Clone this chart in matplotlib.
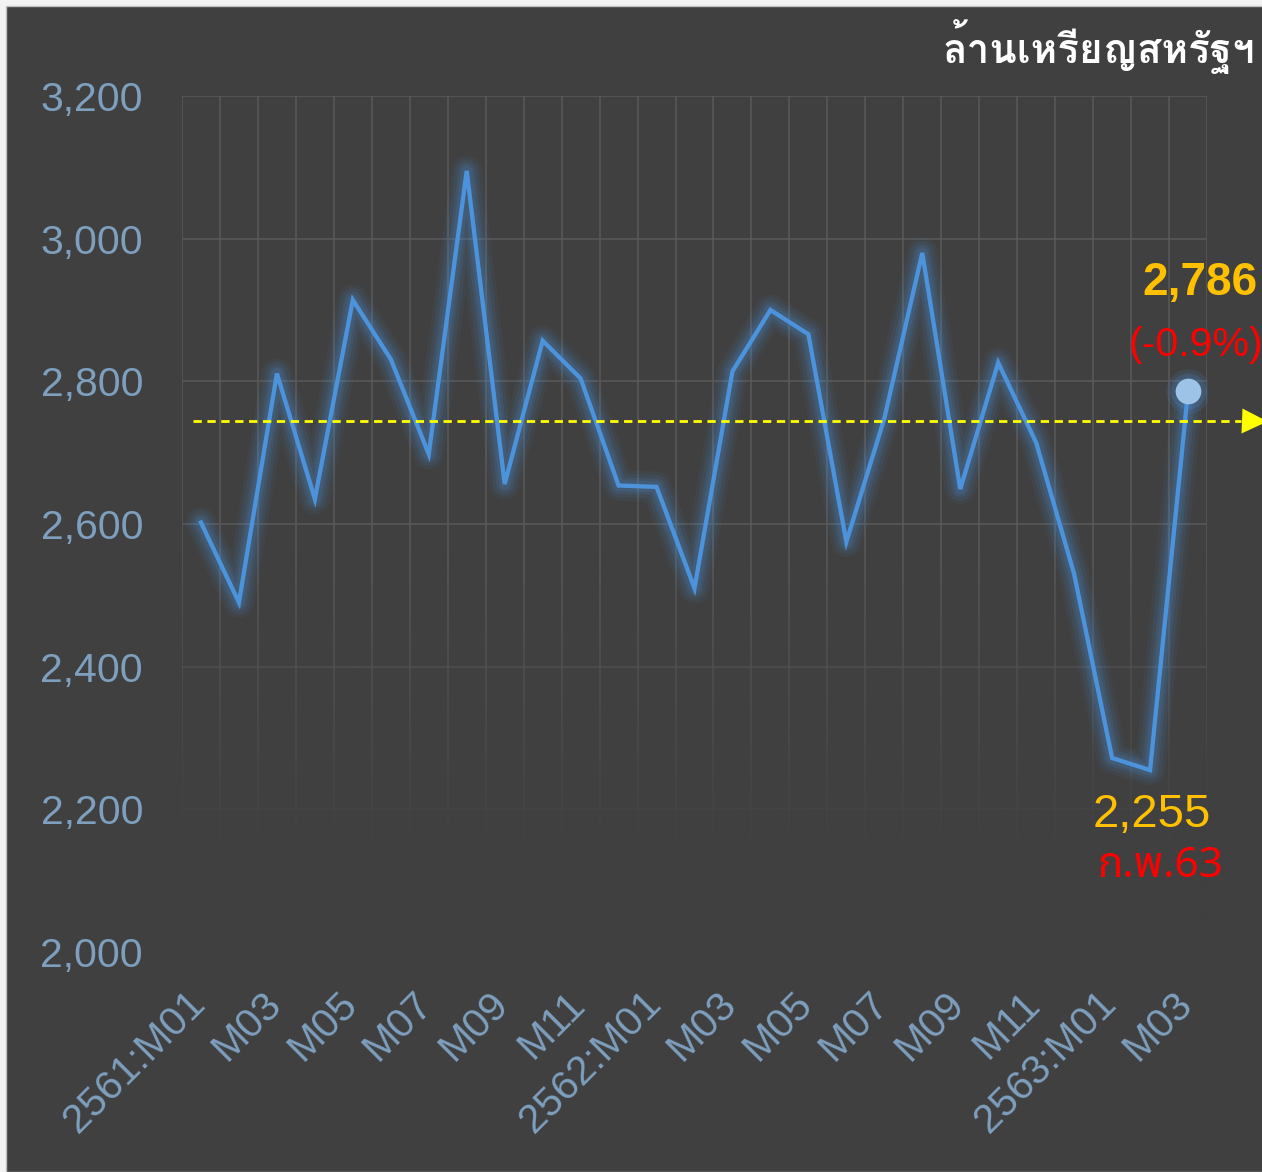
import numpy as np
import matplotlib
matplotlib.use('Agg')
import matplotlib.pyplot as plt
import matplotlib.transforms as mtransforms
from matplotlib import font_manager
from matplotlib.ft2font import FT2Font
from matplotlib.patches import Rectangle

# data
month_labels = ['2561:M01', 'M02', 'M03', 'M04', 'M05', 'M06', 'M07', 'M08', 'M09', 'M10', 'M11', 'M12',
                '2562:M01', 'M02', 'M03', 'M04', 'M05', 'M06', 'M07', 'M08', 'M09', 'M10', 'M11', 'M12',
                '2563:M01', 'M02', 'M03']
values = [2602, 2490, 2811, 2635, 2914, 2831, 2698, 3095, 2656, 2857, 2804, 2654, 2652, 2510,
          2814, 2900, 2866, 2575, 2748, 2980, 2649, 2826, 2714, 2530, 2272, 2255, 2786]
avg_value = 2744
y_ticks = [2000, 2200, 2400, 2600, 2800, 3000, 3200]
unit_label = 'ล้านเหรียญสหรัฐฯ'
last_change = '(-0.9%)'
min_month = 'ก.พ.63'

bg = '#404040'
tick_color = '#7E9FBE'


def thai_fonts():
    found = []
    for fe in font_manager.fontManager.ttflist:
        try:
            cmap = FT2Font(fe.fname).get_charmap()
        except Exception:
            continue
        if 0x0E25 in cmap and 0x0E2B in cmap and fe.name not in found:
            found.append(fe.name)
    return found


def pick(avail, wanted):
    for w in wanted:
        if w in avail:
            return [w]
    return avail[:1]


thai = thai_fonts()
title_family = pick(thai, ['Loma', 'Tlwg Typo', 'Garuda']) + ['Liberation Sans', 'DejaVu Sans']
month_family = pick(thai, ['Noto Sans Thai', 'IBM Plex Sans Thai', 'Loma']) + ['Liberation Sans', 'DejaVu Sans']
plt.rcParams['font.family'] = ['Liberation Sans', 'DejaVu Sans']

fig = plt.figure(figsize=(12.62, 11.72), dpi=100, facecolor='#F2F2F2')
fig.patches.append(Rectangle((6 / 1262, 0), 1, 1 - 6 / 1172, transform=fig.transFigure,
                             facecolor=bg, edgecolor='#BFBFBF', lw=1, zorder=-10))
ax = fig.add_axes([182 / 1262, 1 - 952 / 1172, (1207 - 182) / 1262, (952 - 96) / 1172])
ax.set_facecolor(bg)

x = np.arange(len(values))

# glow + line
for lw, a in [(22, 0.07), (17, 0.09), (12, 0.12), (8, 0.16)]:
    ax.plot(x, values, color='#4A90D9', lw=lw, alpha=a, solid_joinstyle='round', solid_capstyle='round', zorder=3)
ax.plot(x, values, color='#4C93DB', lw=3.1, solid_joinstyle='miter', zorder=4)

# last point marker
for ms, a in [(32, 0.13), (26, 0.2)]:
    ax.plot(x[-1], values[-1], 'o', ms=ms, color='#4A90D9', alpha=a, mec='none', zorder=5)
ax.plot(x[-1], values[-1], 'o', ms=18.5, color='#9DC3E6', mec='none', zorder=6)

# average line with arrow
ax.plot([-0.21, 27.4], [avg_value, avg_value], color='#FFFF00', lw=2, dashes=(3, 2), clip_on=False, zorder=4)
ax.plot(27.75, avg_value, '>', ms=18, color='#FFFF00', mec='none', clip_on=False, zorder=4)

# fade of the lower part of the grid
yy = np.linspace(2000, 3200, 400)
alpha = np.clip((2560 - yy) / (2560 - 2130), 0, 1)
rgba = np.zeros((len(yy), 1, 4))
rgba[:, 0, :3] = matplotlib.colors.to_rgb(bg)
rgba[:, 0, 3] = alpha
ax.imshow(rgba, extent=(-0.5, len(values) - 0.5, 2000, 3200), origin='lower', aspect='auto', zorder=1)

ax.set_xlim(-0.5, len(values) - 0.5)
ax.set_ylim(2000, 3200)

ax.set_yticks(y_ticks)
ax.set_yticklabels(['{:,}'.format(v) for v in y_ticks])
ax.set_xticks(x[::2])
ax.set_xticklabels(month_labels[::2], rotation=45, ha='right', va='center', rotation_mode='anchor')
ax.set_xticks(np.arange(-0.5, len(values)), minor=True)
ax.tick_params(axis='both', which='both', length=0, colors=tick_color, labelsize=29.5)
ax.tick_params(axis='y', pad=28)
ax.tick_params(axis='x', pad=33)
offset = mtransforms.ScaledTranslation(-2 / 100, 0, fig.dpi_scale_trans)
for lab in ax.get_xticklabels():
    lab.set_transform(lab.get_transform() + offset)

ax.set_axisbelow(True)
ax.grid(axis='y', which='major', color='#595959', lw=1.1)
ax.grid(axis='x', which='minor', color='#595959', lw=1.1)
for s in ax.spines.values():
    s.set_visible(False)

# annotations
ax.annotate('{:,}'.format(values[-1]), (x[-1], values[-1]), xytext=(8.5, 78), textcoords='offset points',
            ha='center', va='center', color='#FFC000', fontsize=33, fontweight='bold', annotation_clip=False)
ax.annotate(last_change, (x[-1], values[-1]), xytext=(5.5, 33), textcoords='offset points',
            ha='center', va='center', color='#FF0000', fontsize=29.5, annotation_clip=False)
imin = int(np.argmin(values))
ax.annotate('{:,}'.format(values[imin]), (x[imin], values[imin]), xytext=(1, -32), textcoords='offset points',
            ha='center', va='center', color='#FFC000', fontsize=34, annotation_clip=False)
ax.annotate(min_month, (x[imin], values[imin]), xytext=(7, -69), textcoords='offset points',
            ha='center', va='center', color='#FF0000', fontsize=30.5, family=month_family, annotation_clip=False)

fig.text(1255 / 1262, 1 - 47 / 1172, unit_label, ha='right', va='center', color='white',
         fontsize=29, fontweight='bold', family=title_family)

fig.savefig('out.png', dpi=100, facecolor=fig.get_facecolor())
